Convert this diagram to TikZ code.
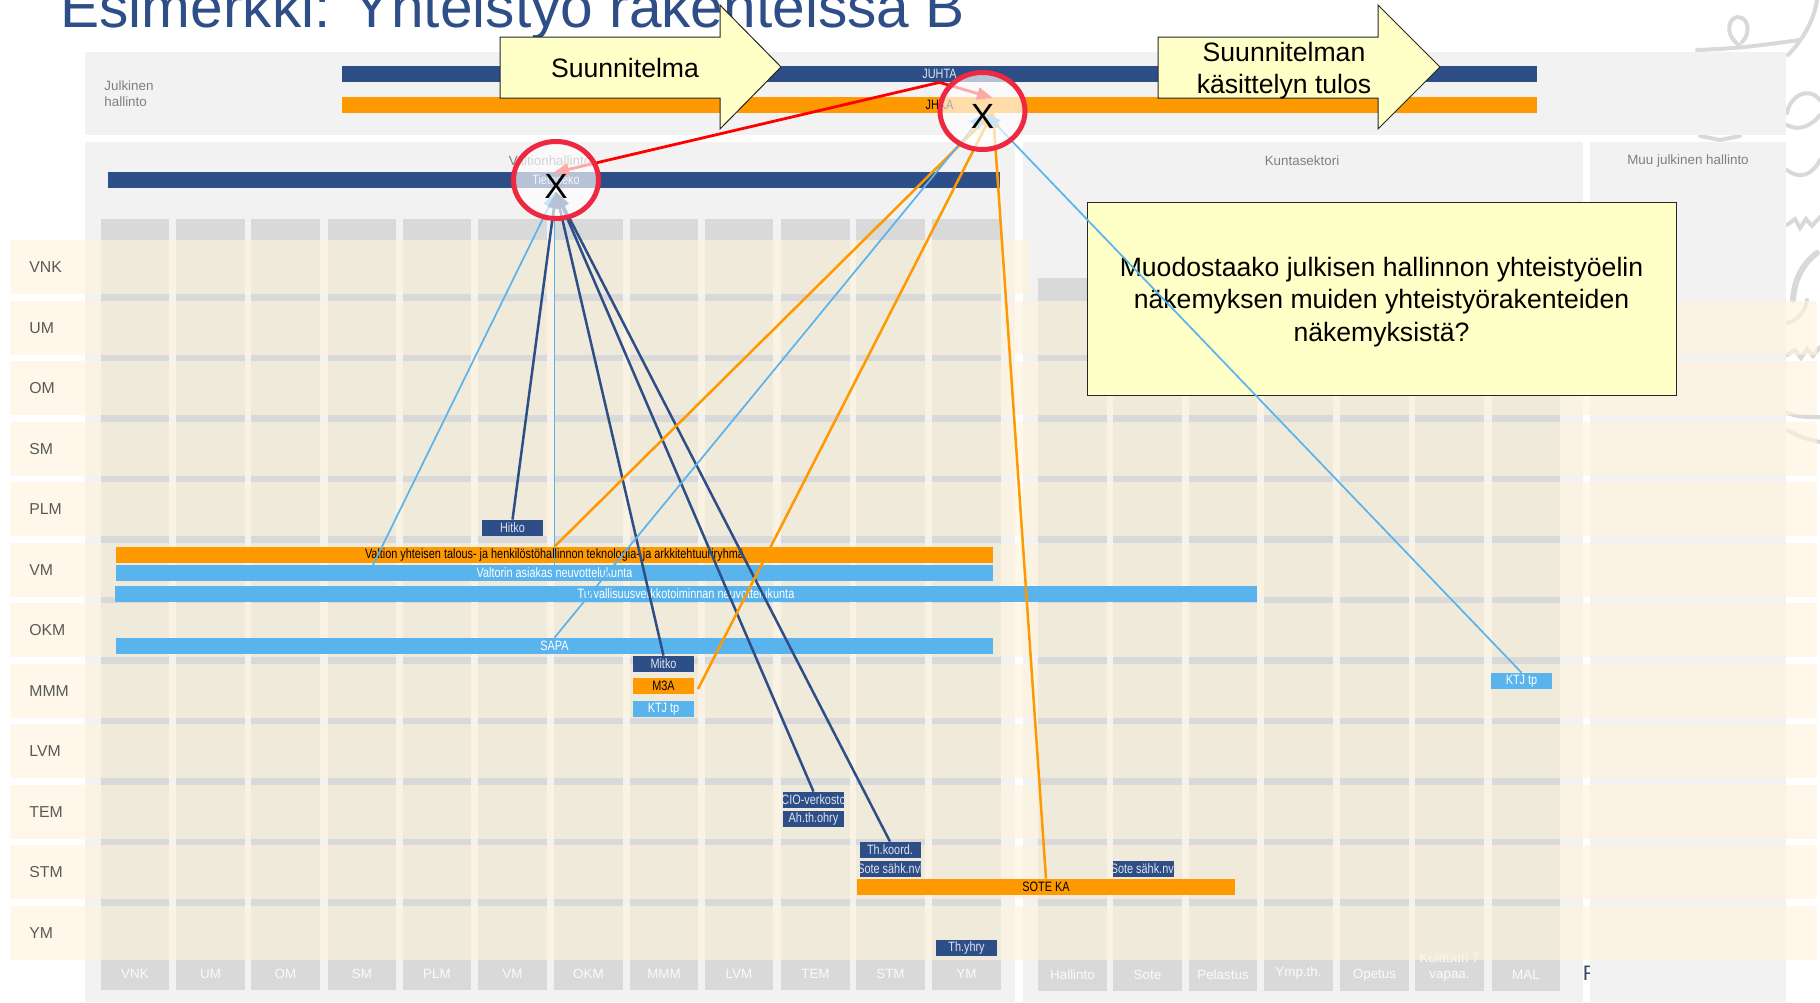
\documentclass[tikz,border=0pt]{standalone}
\usepackage{fontspec}
\usepackage{xcolor}
\setmainfont{Liberation Sans}
\usetikzlibrary{shapes.geometric,arrows.meta}
\definecolor{govblue}{HTML}{2E4E87}
\definecolor{govorange}{HTML}{FF9900}
\definecolor{govsky}{HTML}{59B3EC}
\definecolor{panelgray}{HTML}{F2F2F2}
\definecolor{cellgray}{HTML}{D9D9D9}
\definecolor{rowcream}{HTML}{FFF4DD}
\definecolor{noteyellow}{HTML}{FFFFC8}
\definecolor{ringred}{HTML}{ED2840}
\newcommand{\tight}[1]{\makebox[0pt]{\raisebox{-.8pt}{\scalebox{.8}[1]{#1}}}}

\begin{document}
\begin{tikzpicture}[x=.5pt, y=-.5pt]
    \tikzstyle{bar} = [rectangle, inner sep=0pt, minimum height=8pt, font=\fontsize{6.8}{8}\selectfont]
    \tikzstyle{navybar} = [bar, fill=govblue, text=white!85!govblue]
    \tikzstyle{orangebar} = [bar, fill=govorange, text=black]
    \tikzstyle{skybar} = [bar, fill=govsky, text=white]
    \tikzstyle{smallbar} = [minimum width=30.5pt]
    \tikzstyle{cell} = [fill=cellgray]
    \tikzstyle{collabel} = [text=white!90!cellgray, font=\fontsize{6.7}{8.2}\selectfont, align=center]
    \tikzstyle{rowlabel} = [anchor=west, inner sep=0pt, text=black!65, font=\fontsize{7.9}{9}\selectfont]
    \tikzstyle{greylabel} = [text=black!50, inner sep=0pt, font=\fontsize{6.7}{8}\selectfont, align=left]
    \tikzstyle{note} = [draw=black!85, line width=.5pt, fill=noteyellow]
    \tikzstyle{notetext} = [align=center, font=\fontsize{13.3}{16.1}\selectfont]
    \tikzstyle{ring} = [ellipse, draw=ringred, line width=2.5pt, fill=white, fill opacity=.66, minimum width=42.5pt, minimum height=38.5pt, inner sep=0pt]
    \tikzstyle{crossmark} = [font=\fontsize{17.5}{17.5}\selectfont, inner sep=0pt]
    \tikzstyle{link} = [->, >={Triangle[length=8pt,width=6pt]}]
    \tikzstyle{navylink} = [link, govblue, line width=1.25pt]
    \tikzstyle{orangelink} = [link, govorange, line width=1.25pt]
    \tikzstyle{skylink} = [link, govsky, line width=.85pt]
    \tikzstyle{redlink} = [link, red, line width=1.4pt]
    \tikzstyle{lion} = [cellgray, line width=2pt, line cap=round]

    \useasboundingbox (0,0) rectangle (1820,1002);

    % title, cut by the page
    \node (title) [anchor=base west, inner sep=0pt, text=govblue, font=\fontsize{29.3}{30}\selectfont] at (60,27.5) {Esimerkki: Yhteistyö rakenteissa B};

    % watermark behind the panels
    \draw [lion] (1697,50) .. controls (1740,48) .. (1800,40);
    \draw [lion] (1740,46) .. controls (1722,33) and (1730,17) .. (1738,17) .. controls (1750,18) and (1750,35) .. (1742,42);
    \draw [lion] (1817,0) .. controls (1815,15) and (1806,37) .. (1788,55);
    \draw [lion] (1787,113) .. controls (1790,97) and (1807,85) .. (1820,100);
    \draw [lion] (1787,125) .. controls (1800,132) and (1812,125) .. (1820,115);
    \draw [lion] (1787,170) .. controls (1800,180) and (1812,175) .. (1820,160);
    \draw [lion] (1787,225) -- (1795,219) -- (1800,228) -- (1806,219) -- (1812,226) -- (1820,217);
    \draw [lion, line width=3pt] (1793,300) .. controls (1794,280) and (1803,263) .. (1817,253);
    \draw [lion] (1787,323) .. controls (1798,320) and (1805,312) .. (1807,300);
    \draw [lion] (1787,355) -- (1795,350) -- (1801,358) -- (1807,349) -- (1813,356) -- (1820,347);
    \draw [lion] (1787,413) .. controls (1800,417) .. (1820,417);
    \draw [lion] (1787,430) .. controls (1800,437) .. (1820,442);
    \draw [lion] (1700,136) -- (1720,140) -- (1740,136);

    % panels
    \node (cutletter) [text=black!30!govblue!70!gray, font=\fontsize{10.5}{10.5}\selectfont, inner sep=0pt] at (1590.5,973) {R};
    \fill [panelgray] (85,52) rectangle (1786,135);
    \fill [panelgray] (85,142) rectangle (1015,1002);
    \fill [panelgray] (1023,142) rectangle (1583,1002);
    \fill [panelgray] (1590,142) rectangle (1786,1002);
    \node (julkinen) [greylabel] at (129,94) {Julkinen\\hallinto};
    \node (valtio) [greylabel] at (550,161) {Valtionhallinto};
    \node (kunta) [greylabel] at (1302,161) {Kuntasektori};
    \node (muu) [greylabel] at (1688,161.5) {Muu julkinen hallinto};

    % columns
    \foreach \i/\xa/\xb/\lab in {1/101/169/VNK, 2/176/245/UM, 3/251/320/OM, 4/328/396/SM, 5/403/471/PLM, 6/478/547/VM, 7/554/623/OKM, 8/630/698/MMM, 9/705/773/LVM, 10/781/850/TEM, 11/856/925/STM, 12/932/1001/YM}
    {
        \fill [cell] (\xa,219) rectangle (\xb,990);
        \node (col\i) [collabel] at ({(\xa+\xb)/2},974) {\lab};
    }
    \foreach \i/\xa/\xb/\ya/\lab in {1/1038/1107/975/Hallinto, 2/1113/1182/975/Sote, 3/1189/1257/975/Pelastus, 4/1264/1333/973/Ymp.th., 5/1340/1409/975/Opetus, 6/1415/1484/967/{Kulttuuri 7\\vapaa.}, 7/1492/1560/975/MAL}
    {
        \fill [cell] (\xa,278) rectangle (\xb,991);
        \node (sector\i) [collabel] at ({(\xa+\xb)/2},\ya) {\lab};
    }

    % rows
    \fill [rowcream, fill opacity=.63] (10,240) rectangle (1030,294);
    \node (rowVNK) [rowlabel] at (29,267.5) {VNK};
    \foreach \ya/\lab in {301/UM, 361/OM, 422/SM, 482/PLM, 543/VM, 603/OKM, 664/MMM, 724/LVM, 785/TEM, 845/STM, 906/YM}
    {
        \fill [rowcream, fill opacity=.63] (10,\ya) rectangle (1817,\ya+54);
        \node (row\lab) [rowlabel] at (29,\ya+27.5) {\lab};
    }

    % bodies
    \node (juhta) [navybar, minimum width=597.5pt] at (939.5,74) {\tight{JUHTA}};
    \node (jhka) [orangebar, minimum width=597.5pt] at (939.5,105) {\tight{JHKA}};
    \node (tieto) [navybar, minimum width=446pt] at (554,180) {\hspace{2pt}\tight{Tietoneko}};
    \node (hitko) [navybar, smallbar] at (512.5,528) {\tight{Hitko}};
    \node (valtion) [orangebar, minimum width=438.5pt] at (554.5,555) {\tight{Valtion yhteisen talous- ja henkilöstöhallinnon teknologia- ja arkkitehtuuriryhmä}};
    \node (valtori) [skybar, minimum width=438.5pt] at (554.5,573) {\tight{Valtorin asiakas neuvottelukunta}};
    \node (turva) [skybar, minimum width=571pt] at (686,594) {\tight{Turvallisuusverkkotoiminnan neuvottelukunta}};
    \node (sapa) [skybar, minimum width=438.5pt] at (554.5,646) {\tight{SAPA}};
    \node (mitko) [navybar, smallbar] at (663.5,664) {\tight{Mitko}};
    \node (mta) [orangebar, smallbar] at (663.5,686) {\tight{M3A}};
    \node (ktjvalt) [skybar, smallbar] at (663.5,709) {\tight{KTJ tp}};
    \node (cio) [navybar, smallbar] at (813.5,800) {\tight{CIO-verkosto}};
    \node (ahth) [navybar, smallbar] at (813.5,819) {\tight{Ah.th.ohry}};
    \node (thkoord) [navybar, smallbar] at (890,850) {\tight{Th.koord.}};
    \node (sotevalt) [navybar, smallbar] at (890,869) {\tight{Sote sähk.nvl}};
    \node (sotekunta) [navybar, smallbar] at (1143.5,869) {\tight{Sote sähk.nvl}};
    \node (soteka) [orangebar, minimum width=189pt] at (1046,887) {\tight{SOTE KA}};
    \node (thyhry) [navybar, smallbar] at (966.5,948) {\tight{Th.yhry}};
    \node (ktjkunta) [skybar, smallbar] at (1521.5,681) {\tight{KTJ tp}};

    % yellow notes
    \draw [note] (500,37) -- (720,37) -- (720,5) -- (781,67) -- (720,129) -- (720,98) -- (500,98) -- cycle;
    \node (plan) [notetext] at (625,68) {Suunnitelma};
    \draw [note] (1158,37) -- (1378,37) -- (1378,5) -- (1440,67) -- (1378,129) -- (1378,98) -- (1158,98) -- cycle;
    \node (result) [notetext] at (1284,71) {Suunnitelman\\käsittelyn tulos};
    \node (questionbox) [note, minimum width=294.5pt, minimum height=96.5pt, inner sep=0pt] at (1381.5,298.5) {};
    \node (question) [notetext] at (1381.5,302) {Muodostaako julkisen hallinnon yhteistyöelin\\näkemyksen muiden yhteistyörakenteiden\\näkemyksistä?};

    % connectors
    \coordinate (tiptieto) at (556,192);
    \coordinate (tipvaltori) at (554.5,192);
    \coordinate (tipjhka) at (993,112);
    \coordinate (tipsky) at (985,113);
    \coordinate (redtieto) at (553,173);
    \coordinate (redjhka) at (993,98);
    \coordinate (valtorileft) at (373,565);
    \coordinate (mtaend) at (698,689);

    \draw [skylink] (valtorileft) -- (tiptieto);
    \draw [skylink] (valtori.north) -- (tipvaltori);
    \draw [navylink] (hitko.north) -- (tiptieto);
    \draw [navylink] (mitko.north) -- (tiptieto);
    \draw [navylink] (cio.north) -- (tiptieto);
    \draw [navylink] (thkoord.north) -- (tiptieto);
    \draw [orangelink] (valtion.north) -- (tipjhka);
    \draw [orangelink] (mtaend) -- (tipjhka);
    \draw [orangelink] (soteka.north) -- (tipjhka);
    \draw [skylink] (sapa.north) -- (tipsky);
    \draw [skylink] (ktjkunta.north) -- (tipsky);
    \draw [redlink] (juhta.south) -- (redtieto);
    \draw [redlink] (juhta.south) -- (redjhka);

    % rings on top
    \node (ringtieto) [ring] at (556,180) {};
    \node (ringjhka) [ring] at (982.5,111) {};
    \node (marktieto) [crossmark] at (556,186.5) {X};
    \node (markjhka) [crossmark] at (982.5,116.5) {X};
\end{tikzpicture}
\end{document}
